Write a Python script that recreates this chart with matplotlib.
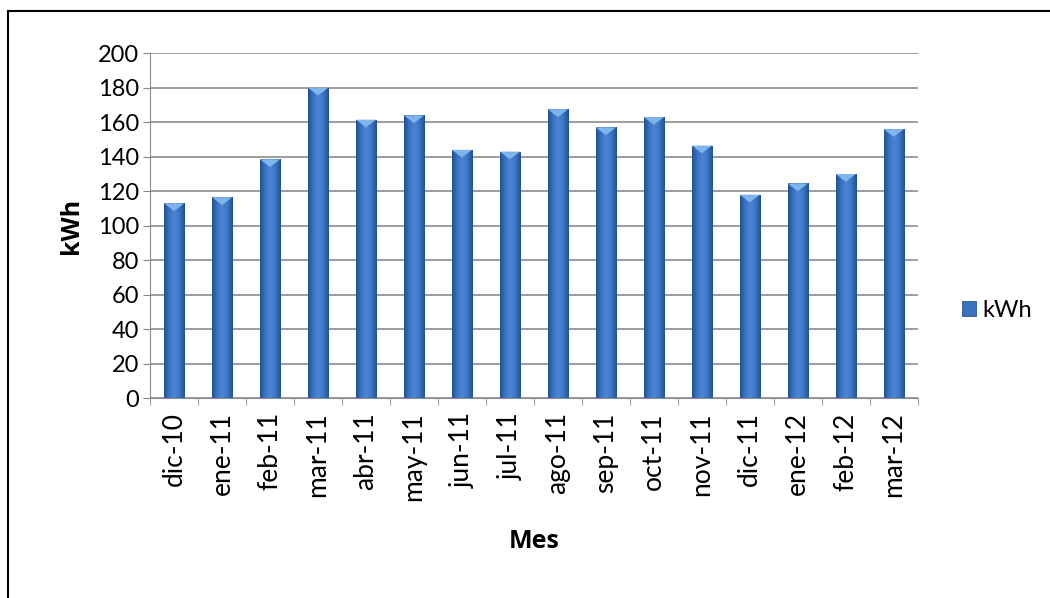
import matplotlib
matplotlib.use("Agg")
import matplotlib.pyplot as plt
import numpy as np
from matplotlib.colors import LinearSegmentedColormap
from matplotlib.lines import Line2D

plt.rcParams["font.family"] = ["Lato", "DejaVu Sans"]

# data
meses = ["dic-10", "ene-11", "feb-11", "mar-11", "abr-11", "may-11", "jun-11",
         "jul-11", "ago-11", "sep-11", "oct-11", "nov-11", "dic-11", "ene-12",
         "feb-12", "mar-12"]
kwh = [113, 116.5, 138.5, 180, 161.5, 164, 144, 143, 167.5, 157, 163, 146.5,
       118, 124.5, 130, 156]

fig = plt.figure(figsize=(10.5, 5.98), dpi=100)
ax = fig.add_axes([0.143, 0.334, 0.731, 0.577])

x = np.arange(len(meses))
w = 0.42
bars = ax.bar(x, kwh, width=w, color="#3a72bf", edgecolor="#2a5590",
              linewidth=0.6, zorder=3, label="kWh")

# horizontal gradient inside each bar (darker edges, lighter middle)
cmap = LinearSegmentedColormap.from_list(
    "bar", ["#24508c", "#3a74c2", "#4a86d3", "#3a74c2", "#24508c"])
grad = np.linspace(0, 1, 64).reshape(1, -1)
for b in bars:
    x0, h = b.get_x(), b.get_height()
    im = ax.imshow(grad, extent=[x0, x0 + w, 0, h], aspect="auto",
                   cmap=cmap, zorder=3.5)
    im.set_clip_path(b)
    # light triangular cap at the top
    ax.fill([x0, x0 + w, x0 + w / 2], [h, h, h - 4.5], color="#7fb4ec",
            zorder=4, linewidth=0)

ax.set_xlim(-0.5, len(meses) - 0.5)
ax.set_ylim(0, 200)
ax.set_yticks(np.arange(0, 201, 20))
ax.set_xticks(x)
ax.set_xticklabels(meses, rotation=90, fontsize=19)
ax.set_xticks(np.arange(-0.5, len(meses), 1), minor=True)
ax.tick_params(axis="x", which="major", length=0, pad=10)
ax.tick_params(axis="x", which="minor", length=5, color="#888888")
ax.tick_params(axis="y", labelsize=17, length=5, color="#888888", pad=3)
ax.grid(axis="y", color="#8c8c8c", linewidth=1.2, zorder=0)
for s in ["top", "right"]:
    ax.spines[s].set_visible(False)
for s in ["left", "bottom"]:
    ax.spines[s].set_color("#8c8c8c")

bold = ["Open Sans", "DejaVu Sans"]
ax.set_ylabel("kWh", fontsize=18, fontweight="bold", family=bold, labelpad=10)
ax.set_xlabel("Mes", fontsize=18, fontweight="bold", family=bold, labelpad=20)

ax.legend(loc="center left", bbox_to_anchor=(1.03, 0.255), frameon=False,
          fontsize=17, handlelength=0.6, handleheight=0.6, handletextpad=0.25)

# outer chart border (only top and left edges visible in the crop)
fig.lines.append(Line2D([0.008, 1.0], [0.982, 0.982], transform=fig.transFigure,
                        color="black", linewidth=1.5))
fig.lines.append(Line2D([0.008, 0.008], [0.0, 0.982], transform=fig.transFigure,
                        color="black", linewidth=1.5))

fig.savefig("out.png", dpi=100)
